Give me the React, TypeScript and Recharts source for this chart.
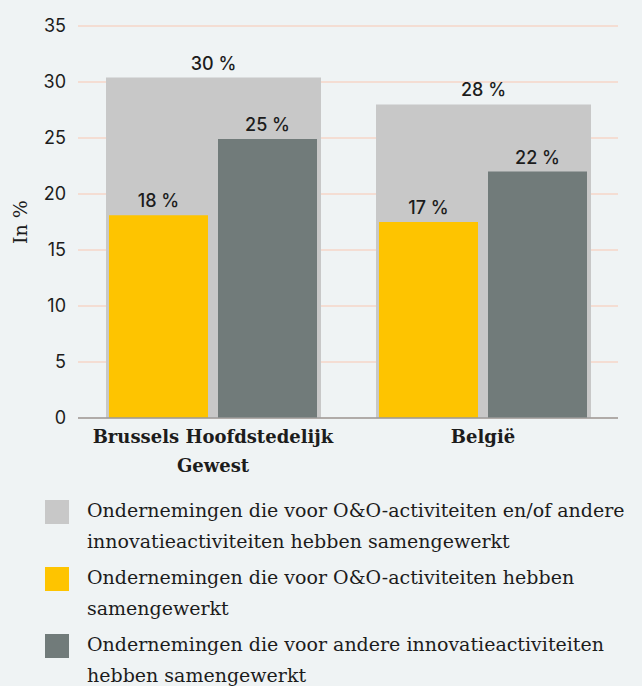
import { BarChart, Bar, XAxis, YAxis, CartesianGrid, LabelList, Legend } from "recharts"

// categories
const regions = ["Brussels Hoofdstedelijk\nGewest", "België"]

// series values (in %)
const totalValues = [30.4, 28.0]
const rdValues = [18.1, 17.5]
const otherValues = [24.9, 22.0]

// value labels as printed above the bars
const totalLabels = ["30 %", "28 %"]
const rdLabels = ["18 %", "17 %"]
const otherLabels = ["25 %", "22 %"]

const yTicks = [0, 5, 10, 15, 20, 25, 30, 35]

const seriesNames = [
  "Ondernemingen die voor O&O-activiteiten en/of andere\ninnovatieactiviteiten hebben samengewerkt",
  "Ondernemingen die voor O&O-activiteiten hebben\nsamengewerkt",
  "Ondernemingen die voor andere innovatieactiviteiten\nhebben samengewerkt",
]
const seriesColors = ["#c8c8c8", "#fec400", "#717b7a"]

const data = regions.map((region, i) => ({
  region,
  total: totalValues[i],
  rd: rdValues[i],
  other: otherValues[i],
  totalLabel: totalLabels[i],
  rdLabel: rdLabels[i],
  otherLabel: otherLabels[i],
}))

const sansFont = "Inter, 'Noto Sans', sans-serif"
const slabFont = "'DejaVu Serif', serif"
const textColor = "#1c1c1c"

// two-line category tick
const RegionTick = ({ x, y, payload }: any) => {
  const lines = String(payload.value).split("\n")
  return (
    <text x={x} y={y} textAnchor="middle" fill={textColor} fontFamily={slabFont} fontSize={18} fontWeight={600}>
      {lines.map((line, i) => (
        <tspan key={i} x={x} dy={i === 0 ? 17 : 29}>
          {line}
        </tspan>
      ))}
    </text>
  )
}

const YLabel = ({ viewBox }: any) => {
  const cx = 20
  const cy = viewBox ? viewBox.y + viewBox.height / 2 : 222
  return (
    <text
      x={cx}
      y={cy}
      transform={`rotate(-90, ${cx}, ${cy})`}
      textAnchor="middle"
      dominantBaseline="central"
      fill={textColor}
      fontFamily={slabFont}
      fontSize={19}
    >
      In %
    </text>
  )
}

const LegendBox = () => (
  <div style={{ fontFamily: slabFont, fontSize: 19, color: textColor, lineHeight: "31px" }}>
    {seriesNames.map((name, i) => (
      <div key={i} style={{ display: "flex", alignItems: "flex-start", marginBottom: 5 }}>
        <span style={{ width: 24, height: 24, marginTop: 5, flex: "0 0 24px", backgroundColor: seriesColors[i] }} />
        <span style={{ marginLeft: 18, whiteSpace: "pre-line" }}>{name}</span>
      </div>
    ))}
  </div>
)

export default function App() {
  return (
    <div style={{ position: "absolute", left: 0, top: 0, width: 642, height: 686, background: "#eff3f4", overflow: "hidden" }}>
      <BarChart width={642} height={686} data={data} margin={{ top: 26, right: 24, left: 0, bottom: 206 }} barGap={10}>
        <CartesianGrid vertical={false} stroke="#f6d6c9" strokeWidth={1.5} />
        <XAxis
          dataKey="region"
          height={62}
          tick={<RegionTick />}
          tickLine={false}
          axisLine={{ stroke: "#9a9a9a", strokeWidth: 1.5 }}
          interval={0}
        />
        <XAxis dataKey="region" xAxisId="front" hide />
        <YAxis
          width={78}
          domain={[0, 35]}
          ticks={yTicks}
          interval={0}
          axisLine={false}
          tickLine={false}
          tickMargin={6}
          tick={{ fill: textColor, fontFamily: sansFont, fontSize: 18 }}
          label={<YLabel />}
        />
        <Legend
          layout="vertical"
          align="center"
          verticalAlign="middle"
          wrapperStyle={{ left: 45, top: 495, width: 597 }}
          content={<LegendBox />}
        />
        <Bar dataKey="total" name={seriesNames[0]} fill={seriesColors[0]} barSize={215} isAnimationActive={false}>
          <LabelList dataKey="totalLabel" position="top" offset={8} fill={textColor} fontFamily={sansFont} fontSize={18} fontWeight={500} />
        </Bar>
        <Bar dataKey="rd" xAxisId="front" name={seriesNames[1]} fill={seriesColors[1]} barSize={99} isAnimationActive={false}>
          <LabelList dataKey="rdLabel" position="top" offset={8} fill={textColor} fontFamily={sansFont} fontSize={18} fontWeight={500} />
        </Bar>
        <Bar dataKey="other" xAxisId="front" name={seriesNames[2]} fill={seriesColors[2]} barSize={99} isAnimationActive={false}>
          <LabelList dataKey="otherLabel" position="top" offset={8} fill={textColor} fontFamily={sansFont} fontSize={18} fontWeight={500} />
        </Bar>
      </BarChart>
    </div>
  )
}
